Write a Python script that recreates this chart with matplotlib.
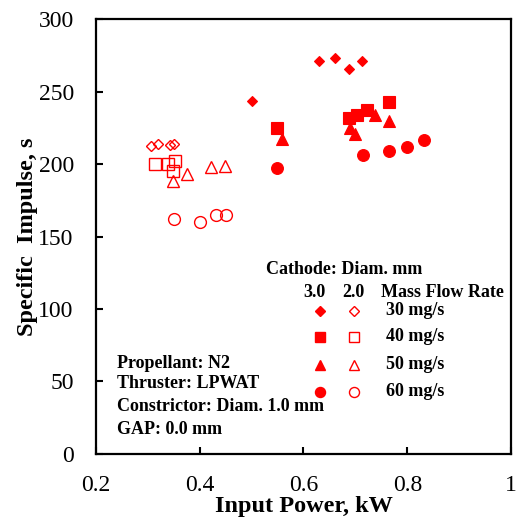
import matplotlib
matplotlib.use("Agg")
import matplotlib.pyplot as plt

plt.rcParams["font.family"] = ["Liberation Serif", "DejaVu Serif"]

# cathode 3.0 mm (filled markers)
p30_a = [0.50, 0.629, 0.66, 0.687, 0.713]
isp30_a = [243.5, 271, 273, 265.5, 271]
p40_a = [0.549, 0.687, 0.704, 0.722, 0.765]
isp40_a = [225, 232, 233.5, 237.5, 243]
p50_a = [0.559, 0.69, 0.70, 0.737, 0.764]
isp50_a = [217, 225, 220.5, 233.5, 230]
p60_a = [0.549, 0.714, 0.765, 0.80, 0.833]
isp60_a = [197, 206.5, 209, 212, 216.5]

# cathode 2.0 mm (open markers)
p30_b = [0.306, 0.319, 0.342, 0.35]
isp30_b = [212.5, 214, 213, 213.5]
p40_b = [0.313, 0.339, 0.352, 0.349]
isp40_b = [200, 200, 202, 195]
p50_b = [0.349, 0.375, 0.422, 0.449]
isp50_b = [188, 193, 198, 198.5]
p60_b = [0.35, 0.40, 0.431, 0.45]
isp60_b = [162, 160, 164.5, 165]

flows = ["30 mg/s", "40 mg/s", "50 mg/s", "60 mg/s"]
notes = ["Propellant: N2", "Thruster: LPWAT", "Constrictor: Diam. 1.0 mm", "GAP: 0.0 mm"]

red = "#FF0000"
mk = ["D", "s", "^", "o"]
ms = [5.5, 8, 8, 8.5]

fig = plt.figure(figsize=(5.18, 5.24), dpi=100)
ax = fig.add_axes([0.1853, 0.1336, 0.8012, 0.8301])

filled = [(p30_a, isp30_a), (p40_a, isp40_a), (p50_a, isp50_a), (p60_a, isp60_a)]
hollow = [(p30_b, isp30_b), (p40_b, isp40_b), (p50_b, isp50_b), (p60_b, isp60_b)]
for i in range(4):
    ax.plot(filled[i][0], filled[i][1], ls="none", marker=mk[i], ms=ms[i],
            mfc=red, mec=red, mew=0.8)
    ax.plot(hollow[i][0], hollow[i][1], ls="none", marker=mk[i], ms=ms[i],
            mfc="none", mec=red, mew=1.0)

ax.set_xlim(0.2, 1.0)
ax.set_ylim(0, 300)
ax.set_xticks([0.2, 0.4, 0.6, 0.8, 1.0])
ax.set_xticklabels(["0.2", "0.4", "0.6", "0.8", "1"])
ax.set_yticks(range(0, 301, 50))
ax.tick_params(direction="in", length=5, width=1.5, labelsize=17)
ax.tick_params(axis="x", pad=15)
ax.tick_params(axis="y", pad=16)
for s in ax.spines.values():
    s.set_linewidth(1.6)

ax.set_xlabel("Input Power, kW", fontsize=17.5, fontweight="bold", labelpad=0)
ax.set_ylabel("Specific  Impulse, s", fontsize=17.5, fontweight="bold", labelpad=0)

# legend drawn by hand
tb = dict(transform=ax.transAxes, fontsize=13, fontweight="bold", va="center")
ax.text(0.41, 0.425, "Cathode: Diam. mm", **tb)
ax.text(0.499, 0.372, "3.0", **tb)
ax.text(0.593, 0.372, "2.0", **tb)
ax.text(0.687, 0.372, "Mass Flow Rate", **tb)
rows = [0.329, 0.269, 0.205, 0.143]
for i in range(4):
    ax.plot(0.54, rows[i], transform=ax.transAxes, marker=mk[i], ms=ms[i] * 0.85,
            mfc=red, mec=red, ls="none", clip_on=False)
    ax.plot(0.622, rows[i], transform=ax.transAxes, marker=mk[i], ms=ms[i] * 0.85,
            mfc="none", mec=red, mew=1.0, ls="none", clip_on=False)
    ax.text(0.699, rows[i], flows[i], **tb)

nrows = [0.209, 0.161, 0.110, 0.057]
for t, y in zip(notes, nrows):
    ax.text(0.051, y, t, **tb)

fig.savefig("out.png", dpi=100)
